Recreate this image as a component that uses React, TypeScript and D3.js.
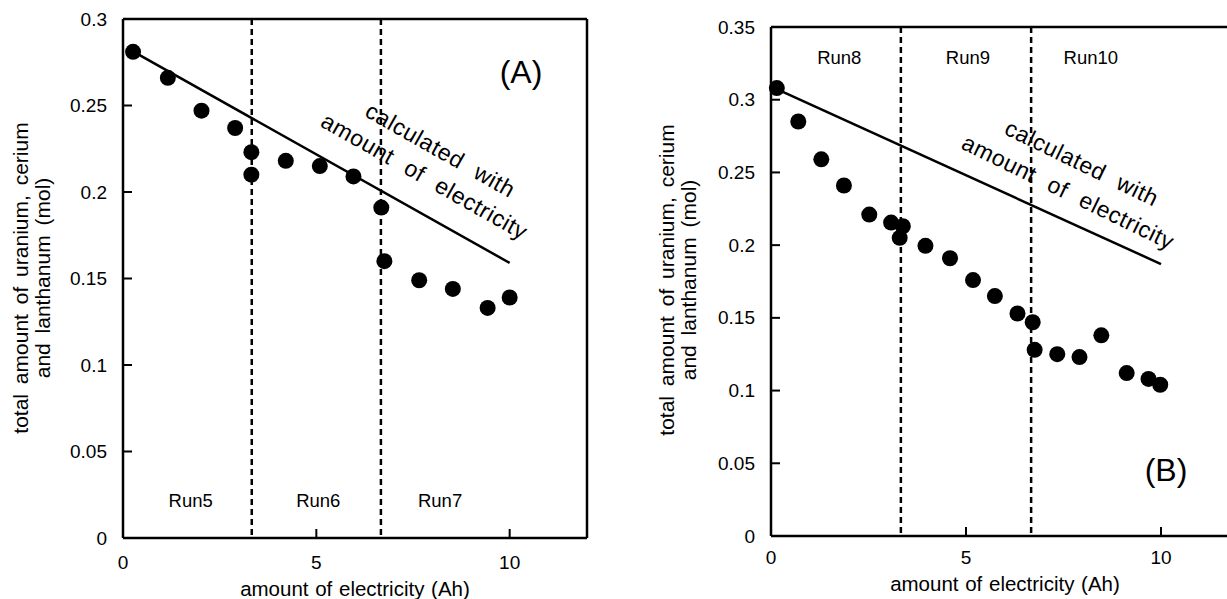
import React from "react";
import * as d3 from "d3";

// ---------- Data ----------
const xTicks = [0, 5, 10];
const yTicksA = [0, 0.05, 0.1, 0.15, 0.2, 0.25, 0.3];
const yTicksB = [0, 0.05, 0.1, 0.15, 0.2, 0.25, 0.3, 0.35];
const runBoundaries = [3.33, 6.67];

const runLabelsA = ["Run5", "Run6", "Run7"];
const runLabelsB = ["Run8", "Run9", "Run10"];
const runLabelX = [1.75, 5.05, 8.2];

const measuredA_x = [0.26, 1.16, 2.03, 2.9, 3.32, 3.32, 4.21, 5.09, 5.96, 6.68, 6.76, 7.66, 8.53, 9.43, 10.0];
const measuredA_y = [0.281, 0.266, 0.247, 0.237, 0.223, 0.21, 0.218, 0.215, 0.209, 0.191, 0.16, 0.149, 0.144, 0.133, 0.139];

const measuredB_x = [0.15, 0.7, 1.29, 1.87, 2.52, 3.08, 3.38, 3.3, 3.96, 4.59, 5.18, 5.74, 6.32, 6.71, 6.76, 7.34, 7.91, 8.47, 9.12, 9.68, 9.98];
const measuredB_y = [0.308, 0.285, 0.259, 0.241, 0.221, 0.2155, 0.213, 0.205, 0.1995, 0.191, 0.176, 0.165, 0.153, 0.147, 0.128, 0.125, 0.123, 0.138, 0.112, 0.108, 0.104];

const calcA_x = [0.2, 10.0];
const calcA_y = [0.282, 0.159];
const calcB_x = [0.05, 10.0];
const calcB_y = [0.3085, 0.187];

const calcLabel = ["calculated with", "amount of electricity"];
const xAxisTitle = "amount of electricity (Ah)";
const yAxisTitle = ["total amount of uranium, cerium", "and lanthanum (mol)"];

const FONT = "'Liberation Sans', Arial, Helvetica, sans-serif";

type PanelProps = {
  left: number;
  right: number;
  top: number;
  bottom: number;
  yMax: number;
  yTicks: number[];
  xs: number[];
  ys: number[];
  cx: number[];
  cy: number[];
  runLabels: string[];
  runLabelY: number;
  panelLabel: string;
  panelLabelPos: [number, number];
  calcPos: [number, number][];
  calcAngle: number;
  yTitleX: [number, number];
  yTitleY: number;
  tickLabelDx: number;
  xTickLabelY: number;
  xTitleY: number;
  showRight: boolean;
};

function Panel(p: PanelProps) {
  const x = d3.scaleLinear().domain([0, 12]).range([p.left, p.right]);
  const y = d3.scaleLinear().domain([0, p.yMax]).range([p.bottom, p.top]);
  const line = d3
    .line<number>()
    .x((_, i) => x(p.cx[i]))
    .y((_, i) => y(p.cy[i]));
  const fmt = d3.format("~g");
  const xMid = (x(0) + x(12)) / 2;
  return (
    <g fontFamily={FONT} fill="#000">
      {/* frame */}
      <line x1={x(0)} x2={x(0)} y1={p.top} y2={p.bottom} stroke="#000" strokeWidth={2.5} />
      <line x1={x(0)} x2={x(12)} y1={p.bottom} y2={p.bottom} stroke="#000" strokeWidth={2.5} />
      <line x1={x(0)} x2={x(12)} y1={p.top} y2={p.top} stroke="#000" strokeWidth={2.5} />
      {p.showRight && <line x1={x(12)} x2={x(12)} y1={p.top} y2={p.bottom} stroke="#000" strokeWidth={2.5} />}
      {/* y ticks */}
      {p.yTicks.map((t) => (
        <g key={"y" + t}>
          <line x1={x(0)} x2={x(0) + 9} y1={y(t)} y2={y(t)} stroke="#000" strokeWidth={2} />
          <text x={x(0) - p.tickLabelDx} y={y(t)} textAnchor="end" dominantBaseline="central" fontSize={19}>
            {fmt(t)}
          </text>
        </g>
      ))}
      {/* x ticks */}
      {xTicks.map((t) => (
        <g key={"x" + t}>
          <line x1={x(t)} x2={x(t)} y1={p.bottom} y2={p.bottom - 9} stroke="#000" strokeWidth={2} />
          <text x={x(t)} y={p.xTickLabelY} textAnchor="middle" dominantBaseline="central" fontSize={19}>
            {t}
          </text>
        </g>
      ))}
      {/* run boundaries */}
      {runBoundaries.map((b) => (
        <line key={"b" + b} x1={x(b)} x2={x(b)} y1={p.top} y2={p.bottom} stroke="#000" strokeWidth={2.5} strokeDasharray="6,4" />
      ))}
      {/* run labels */}
      {p.runLabels.map((r, i) => (
        <text key={r} x={x(runLabelX[i])} y={p.runLabelY} textAnchor="middle" dominantBaseline="central" fontSize={18.5}>
          {r}
        </text>
      ))}
      {/* calculated line */}
      <path d={line(p.cx) || ""} fill="none" stroke="#000" strokeWidth={2.5} />
      {/* points */}
      {p.xs.map((v, i) => (
        <circle key={"p" + i} cx={x(v)} cy={y(p.ys[i])} r={8} fill="#000" />
      ))}
      {/* calculated label */}
      {calcLabel.map((s, i) => (
        <text
          key={s}
          transform={`translate(${x(p.calcPos[i][0])},${y(p.calcPos[i][1])}) rotate(${p.calcAngle})`}
          textAnchor="middle"
          dominantBaseline="central"
          fontSize={23}
          letterSpacing={0.6}
          wordSpacing={8}
        >
          {s}
        </text>
      ))}
      {/* panel label */}
      <text x={p.panelLabelPos[0]} y={p.panelLabelPos[1]} textAnchor="middle" dominantBaseline="central" fontSize={32}>
        {p.panelLabel}
      </text>
      {/* axis titles */}
      <text x={xMid} y={p.xTitleY} textAnchor="middle" dominantBaseline="central" fontSize={20.5} wordSpacing={1}>
        {xAxisTitle}
      </text>
      {yAxisTitle.map((s, i) => (
        <text
          key={s}
          transform={`translate(${p.yTitleX[i]},${p.yTitleY}) rotate(-90)`}
          textAnchor="middle"
          dominantBaseline="central"
          fontSize={21}
          wordSpacing={4}
        >
          {s}
        </text>
      ))}
    </g>
  );
}

export default function App() {
  return (
    <div style={{ position: "absolute", left: 0, top: 0, width: 1227, height: 599, background: "#fff" }}>
      <svg width={1227} height={599} viewBox="0 0 1227 599" style={{ display: "block" }}>
        <rect width={1227} height={599} fill="#fff" />
        <Panel
          left={123}
          right={587}
          top={19}
          bottom={538}
          yMax={0.3}
          yTicks={yTicksA}
          xs={measuredA_x}
          ys={measuredA_y}
          cx={calcA_x}
          cy={calcA_y}
          runLabels={runLabelsA}
          runLabelY={500}
          panelLabel="(A)"
          panelLabelPos={[521, 72]}
          calcPos={[
            [8.21, 0.2243],
            [7.8, 0.2092],
          ]}
          calcAngle={29.5}
          yTitleX={[20, 42]}
          yTitleY={278}
          tickLabelDx={16}
          xTickLabelY={562}
          xTitleY={588}
          showRight={true}
        />
        <Panel
          left={771}
          right={1239}
          top={27}
          bottom={536}
          yMax={0.35}
          yTicks={yTicksB}
          xs={measuredB_x}
          ys={measuredB_y}
          cx={calcB_x}
          cy={calcB_y}
          runLabels={runLabelsB}
          runLabelY={57}
          panelLabel="(B)"
          panelLabelPos={[1166, 470]}
          calcPos={[
            [7.97, 0.2565],
            [7.62, 0.2366],
          ]}
          calcAngle={26}
          yTitleX={[666, 688]}
          yTitleY={280}
          tickLabelDx={16}
          xTickLabelY={557}
          xTitleY={583}
          showRight={false}
        />
      </svg>
    </div>
  );
}
